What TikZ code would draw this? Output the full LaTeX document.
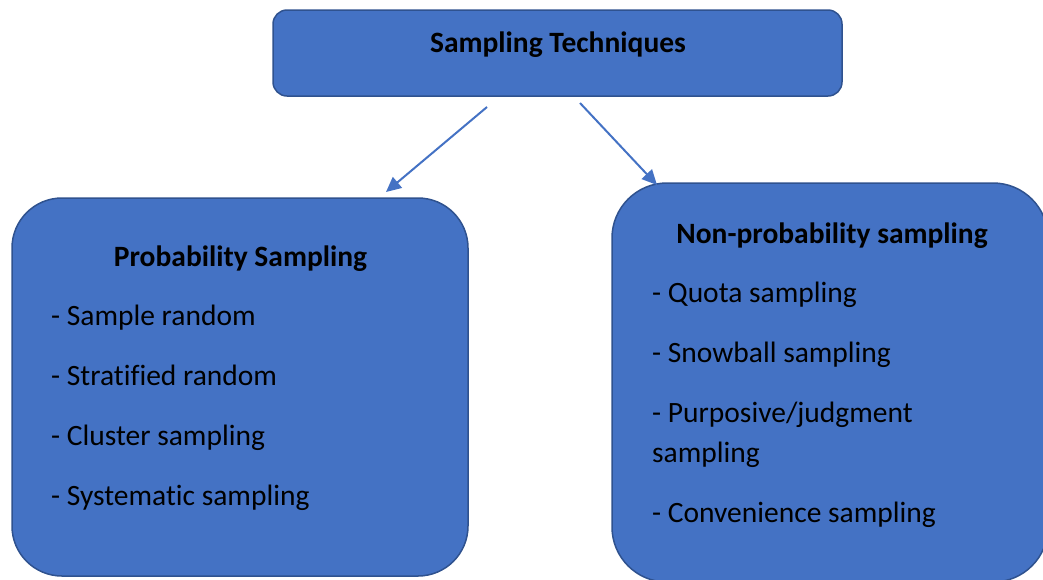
\documentclass[tikz,border=0pt]{standalone}
\usepackage{fontspec}
\setmainfont{Carlito}[Ligatures=NoCommon]
\usetikzlibrary{arrows.meta}
\definecolor{boxfill}{HTML}{4472C4}
\definecolor{boxline}{HTML}{2F528F}
\tikzset{
	box/.style = {draw=boxline, fill=boxfill, line width=1.5pt, outer sep=0pt},
	head/.style = {font=\fontsize{29.5}{35}\selectfont\bfseries, anchor=base, inner sep=0pt},
	item/.style = {font=\fontsize{29.5}{35}\selectfont, anchor=base west, inner sep=0pt},
	link/.style = {boxfill, line width=2pt, -{Triangle[length=15pt,width=14pt]}}
}

\begin{document}
\begin{tikzpicture}[x=1pt, y=-1pt]
	\useasboundingbox (0,0) rectangle (1043,579);
	\clip (0,0) rectangle (1043,579);
	% boxes
	\node [box, minimum width=569pt, minimum height=86pt, rounded corners=14pt]
		(top) at (557.5,53) {};
	\node [box, minimum width=456pt, minimum height=378pt, rounded corners=50pt]
		(prob) at (240,387) {};
	\node [box, minimum width=436pt, minimum height=399pt, rounded corners=55pt]
		(nonprob) at (830,382.5) {};
	% headings
	\node [head] (toptitle) at (558,52) {Sampling Techniques};
	\node [head] (probtitle) at (240.5,266) {Probability Sampling};
	\node [head] (nonprobtitle) at (832,243) {Non-probability sampling};
	% left list
	\node [item] (p1) at (51,325) {- Sample random};
	\node [item] (p2) at (51,385) {- Stratified random};
	\node [item] (p3) at (51,445) {- Cluster sampling};
	\node [item] (p4) at (51,505) {- Systematic sampling};
	% right list
	\node [item] (n1) at (652,302) {- Quota sampling};
	\node [item] (n2) at (652,362) {- Snowball sampling};
	\node [item] (n3) at (652,422) {- Purposive/judgment};
	\node [item] (n3b) at (652,462) {sampling};
	\node [item] (n4) at (652,522) {- Convenience sampling};
	% arrows
	\draw [link] ([xshift=-70.5pt,yshift=-11pt]top.south) to
		([xshift=146pt,yshift=6pt]prob.north);
	\draw [link] ([xshift=22.5pt,yshift=-7pt]top.south) to
		([xshift=-173pt,yshift=-2pt]nonprob.north);
\end{tikzpicture}
\end{document}
